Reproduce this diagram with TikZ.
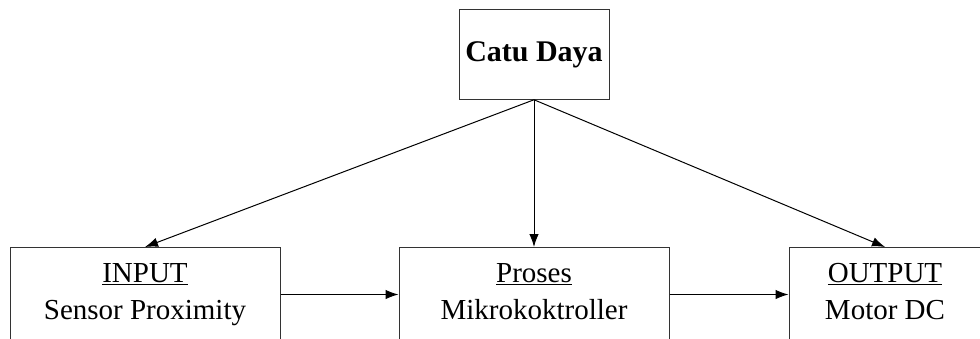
\documentclass[tikz,border=0pt]{standalone}
\usepackage{fontspec}
\setmainfont{Liberation Serif}
\usetikzlibrary{positioning,arrows.meta}

\begin{document}
\begin{tikzpicture}
  [x=1pt,y=-1pt,line width=1pt,
   blok/.style={draw=black!80,anchor=north,minimum height=94pt,inner sep=0pt},
   teks/.style={align=center,anchor=north,inner sep=0pt,font=\fontsize{29}{37}\selectfont},
   panah/.style={-{Latex[length=13pt,width=9.5pt]}}]
  \clip (0,0) rectangle (980,338);

  \node[draw=black!80,minimum width=150pt,minimum height=89.5pt,inner sep=0pt,
        font=\fontsize{30}{36}\selectfont\bfseries] (catu) at (534,54.5) {Catu Daya};

  \node[blok,minimum width=270pt] (input) at (145,247) {};
  \node[blok,minimum width=270pt] (proses) at (534,247) {};
  \node[blok,minimum width=192pt] (output) at (885,247) {};

  \node[teks,below=16pt of input.north] (inputteks) {\underline{INPUT}\\Sensor Proximity};
  \node[teks,below=16pt of proses.north] (prosesteks) {\underline{Proses}\\Mikrokoktroller};
  \node[teks,below=16pt of output.north] (outputteks) {\underline{OUTPUT}\\Motor DC};

  \foreach \ke in {input,proses,output}
    \draw[panah] (catu.south) -- (\ke.north);

  \draw[panah] (input) -- (proses);
  \draw[panah] (proses) -- (output);

\end{tikzpicture}
\end{document}
